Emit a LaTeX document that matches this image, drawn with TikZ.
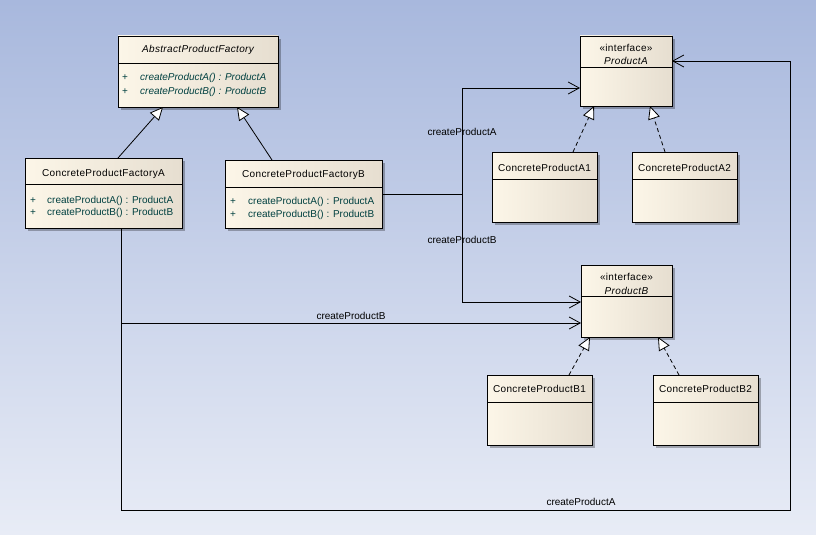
\documentclass[tikz,border=0pt]{standalone}
\usepackage{fontspec}
\setmainfont{Liberation Sans}
\newfontfamily\spacedfont{Liberation Sans}[LetterSpace=3.5]
\usetikzlibrary{arrows.meta,shadows,calc}
\definecolor{bgtop}{RGB}{168,184,221}
\definecolor{bgbot}{RGB}{232,236,246}
\definecolor{boxL}{RGB}{252,246,232}
\definecolor{boxR}{RGB}{230,222,208}
\definecolor{optxt}{RGB}{0,64,64}
\begin{document}
\begin{tikzpicture}[x=1pt,y=-1pt,font=\fontsize{10}{12}\selectfont,
  cls/.style={draw=black, line width=0.8pt, left color=boxL, right color=boxR,
    anchor=north west, inner sep=0pt, outer sep=0pt,
    drop shadow={shadow xshift=3pt, shadow yshift=-3pt, fill=black, opacity=0.28}},
  divider/.style={draw=black, line width=0.8pt},
  txt/.style={inner sep=0pt, anchor=center, font=\spacedfont\fontsize{10}{12}\selectfont},
  optx/.style={inner sep=0pt, anchor=west, text=optxt},
  lbl/.style={inner sep=0pt, anchor=center},
  conn/.style={draw=black, line width=0.8pt},
  assoc/.style={conn, -{Straight Barb[length=11pt,width=12pt,line width=0.8pt]}},
  gen/.style={conn, -{Triangle[length=13pt,width=12pt,fill=white,line width=0.8pt]}},
  real/.style={gen, dash pattern=on 4pt off 3pt}]
\useasboundingbox (0,0) rectangle (816,535);
\shade[top color=bgtop,bottom color=bgbot] (0,0) rectangle (816,535);

% class boxes
\node[cls, minimum width=160pt, minimum height=71pt] (apf) at (118,36) {};
\draw[divider] (apf.north west) ++(0,27) -- ++(160,0);
\node[cls, minimum width=157pt, minimum height=70pt] (cpfa) at (25,158) {};
\draw[divider] (cpfa.north west) ++(0,26) -- ++(157,0);
\node[cls, minimum width=157pt, minimum height=68pt] (cpfb) at (225,160) {};
\draw[divider] (cpfb.north west) ++(0,27) -- ++(157,0);
\node[cls, minimum width=92pt, minimum height=70pt] (pa) at (580,36) {};
\draw[divider] (pa.north west) ++(0,31) -- ++(92,0);
\node[cls, minimum width=105pt, minimum height=70pt] (ca1) at (492,152) {};
\draw[divider] (ca1.north west) ++(0,27) -- ++(105,0);
\node[cls, minimum width=105pt, minimum height=70pt] (ca2) at (632,152) {};
\draw[divider] (ca2.north west) ++(0,27) -- ++(105,0);
\node[cls, minimum width=91pt, minimum height=72pt] (pb) at (581,265) {};
\draw[divider] (pb.north west) ++(0,31) -- ++(91,0);
\node[cls, minimum width=105pt, minimum height=70pt] (cb1) at (487,375) {};
\draw[divider] (cb1.north west) ++(0,27) -- ++(105,0);
\node[cls, minimum width=105pt, minimum height=70pt] (cb2) at (653,375) {};
\draw[divider] (cb2.north west) ++(0,27) -- ++(105,0);

% texts
\node[txt] (apfn) at (198,50) {\itshape AbstractProductFactory};
\node[optx] (apfp1) at (122,78) {+};
\node[optx] (apfo1) at (140,78) {\itshape createProductA() : ProductA};
\node[optx] (apfp2) at (122,92) {+};
\node[optx] (apfo2) at (140,92) {\itshape createProductB() : ProductB};

\node[txt] (cpfan) at (103.5,174) {ConcreteProductFactoryA};
\node[optx] (cpfap1) at (30,201) {+};
\node[optx] (cpfao1) at (47,201) {createProductA() : ProductA};
\node[optx] (cpfap2) at (30,213) {+};
\node[optx] (cpfao2) at (47,213) {createProductB() : ProductB};

\node[txt] (cpfbn) at (303.5,175) {ConcreteProductFactoryB};
\node[optx] (cpfbp1) at (230,202) {+};
\node[optx] (cpfbo1) at (248,202) {createProductA() : ProductA};
\node[optx] (cpfbp2) at (230,215) {+};
\node[optx] (cpfbo2) at (248,215) {createProductB() : ProductB};

\node[txt] (pas) at (626,48) {\guillemotleft interface\guillemotright};
\node[txt] (pan) at (626,61) {\itshape ProductA};
\node[txt] (pbs) at (626.5,277) {\guillemotleft interface\guillemotright};
\node[txt] (pbn) at (626.5,291) {\itshape ProductB};

\node[txt] (ca1n) at (544.5,168) {ConcreteProductA1};
\node[txt] (ca2n) at (684.5,168) {ConcreteProductA2};
\node[txt] (cb1n) at (539.5,389) {ConcreteProductB1};
\node[txt] (cb2n) at (705.5,389) {ConcreteProductB2};

% generalizations
\draw[gen] ($(cpfa.north west)+(93,0)$) -- ($(apf.south west)+(45,0)$);
\draw[gen] ($(cpfb.north west)+(47,0)$) -- ($(apf.south west)+(119,0)$);
% realizations
\draw[real] ($(ca1.north west)+(81,0)$) -- ($(pa.south west)+(14,0)$);
\draw[real] ($(ca2.north west)+(33,0)$) -- ($(pa.south west)+(70,0)$);
\draw[real] ($(cb1.north west)+(82,0)$) -- ($(pb.south west)+(9,0)$);
\draw[real] ($(cb2.north west)+(26,0)$) -- ($(pb.south west)+(77,0)$);

% associations from factory B
\coordinate (jb) at (462,194);
\draw[conn] (cpfb.east) -- (jb);
\draw[assoc] (jb) |- ($(pa.north west)+(0,52)$);
\draw[assoc] (jb) |- ($(pb.north west)+(0,37)$);
\node[lbl] (l1) at (462,132) {createProductA};
\node[lbl] (l2) at (462,240) {createProductB};

% associations from factory A
\coordinate (ja) at ($(cpfa.south west)+(96,0)$);
\coordinate (jc) at (121,510);
\coordinate (jd) at (790,510);
\coordinate (je) at (790,61);
\draw[assoc] (ja) |- ($(pb.north west)+(0,58)$);
\draw[assoc] (ja) -- (jc) -- (jd) -- (je) -- ($(pa.north east)+(0,25)$);
\node[lbl] (l3) at (351,316) {createProductB};
\node[lbl] (l4) at (581,502) {createProductA};
\end{tikzpicture}
\end{document}
